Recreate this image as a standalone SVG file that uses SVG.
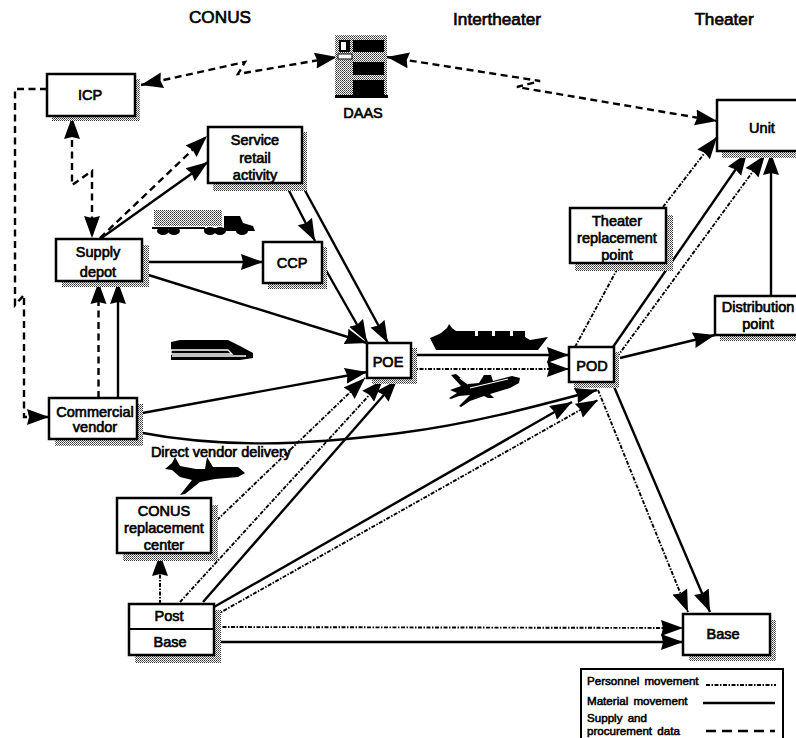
<svg xmlns="http://www.w3.org/2000/svg" width="796" height="738" viewBox="0 0 796 738">
<style>
text{font-family:"Liberation Sans",Arial,sans-serif;font-size:14.5px;fill:#000;stroke:#000;stroke-width:.65;text-anchor:middle}
.h{font-size:17.2px}
.l{font-size:11.6px;text-anchor:start;stroke-width:.55;word-spacing:2px}
.box{fill:#fff;stroke:#000;stroke-width:2.5}
.sh{fill:url(#ht)}
.c{fill:none;stroke:#000}
.mat{stroke-width:2.4}
.per{stroke-width:1.9;stroke-dasharray:4 1.5 1.5 1.5}
.dat{stroke-width:2.4;stroke-dasharray:7 4.5}
.a{marker-end:url(#ah)}
.b{marker-start:url(#ah)}
.ic{fill:#000;stroke:none}
</style>
<defs>
<pattern id="ht" width="2" height="2" patternUnits="userSpaceOnUse"><rect width="2" height="2" fill="#fff"/><rect width="1" height="1" fill="#333"/><rect x="1" y="1" width="1" height="1" fill="#666"/></pattern>
<marker id="ah" markerUnits="userSpaceOnUse" markerWidth="24" markerHeight="18" refX="22" refY="9" orient="auto-start-reverse"><path d="M0,1L22,9L0,17L2,9z" fill="#000"/></marker>
</defs>
<g id="connectors">
<polyline class="c dat a b" points="141,85 245,62 238,74 337,57"/>
<polyline class="c dat a b" points="387,57 540,81 517,87 717,121"/>
<polyline class="c dat a b" points="72,117 72,185 92,171 92,238"/>
<polyline class="c dat a" points="47,89 15,89 15,305 24,295 24,417 49,417"/>
<line class="c dat a" x1="100" y1="238" x2="207" y2="136"/>
<line class="c dat a" x1="98.500" y1="398" x2="98.500" y2="282"/>
<line class="c mat a" x1="100" y1="239" x2="208" y2="162"/>
<line class="c mat a" x1="285" y1="183" x2="315" y2="241"/>
<line class="c mat a" x1="302" y1="185" x2="388" y2="343"/>
<line class="c mat a" x1="323" y1="265" x2="367" y2="342"/>
<line class="c mat a" x1="142" y1="262" x2="263" y2="262"/>
<line class="c mat a" x1="142" y1="273" x2="367" y2="343"/>
<line class="c mat a" x1="118" y1="398" x2="118" y2="282"/>
<line class="c mat a" x1="137" y1="414" x2="367" y2="372"/>
<path class="c mat a" d="M137,432C220,448 300,446 400,433C470,424 530,408 597,390"/>
<line class="c mat a" x1="203" y1="602" x2="397" y2="380"/>
<line class="c mat a" x1="214" y1="607" x2="572" y2="402"/>
<line class="c mat a" x1="613" y1="347" x2="747" y2="153"/>
<line class="c mat a" x1="620" y1="358" x2="715" y2="335"/>
<line class="c mat a" x1="771" y1="296" x2="771" y2="153"/>
<line class="c mat a" x1="612" y1="382" x2="710" y2="612"/>
<line class="c mat a" x1="411" y1="355" x2="569" y2="355"/>
<line class="c mat a" x1="214" y1="642" x2="683" y2="642"/>
<line class="c per a" x1="663" y1="207" x2="717" y2="137"/>
<line class="c per" x1="575" y1="347" x2="620" y2="264"/>
<line class="c per a" x1="617" y1="357" x2="765" y2="155"/>
<line class="c per a" x1="411" y1="369" x2="569" y2="369"/>
<line class="c per a" x1="160" y1="604" x2="160" y2="554"/>
<line class="c per a" x1="217" y1="520" x2="365" y2="378"/>
<line class="c per a" x1="180" y1="602" x2="383" y2="380"/>
<line class="c per a" x1="216" y1="615" x2="598" y2="400"/>
<line class="c per a" x1="598" y1="390" x2="688" y2="612"/>
<line class="c per a" x1="214" y1="627" x2="683" y2="628"/>
</g>
<g id="icp"><rect class="sh" x="52" y="79" width="88" height="42"/><rect class="box" x="47" y="74" width="88" height="42"/><text x="90" y="100">ICP</text></g>
<g id="service-retail"><rect class="sh" x="213" y="132" width="94" height="59"/><rect class="box" x="208" y="127" width="94" height="56"/><text x="255" y="145">Service</text><text x="255" y="163">retail</text><text x="255" y="180">activity</text></g>
<g id="supply-depot"><rect class="sh" x="62" y="245" width="87" height="42"/><rect class="box" x="56" y="239" width="86" height="42"/><text x="98" y="257">Supply</text><text x="98" y="277">depot</text></g>
<g id="ccp"><rect class="sh" x="268" y="247" width="59" height="42"/><rect class="box" x="263" y="242" width="59" height="41"/><text x="292" y="268">CCP</text></g>
<g id="poe"><rect class="sh" x="372" y="348" width="45" height="36"/><rect class="box" x="367" y="343" width="44" height="35"/><text x="388" y="367">POE</text></g>
<g id="pod"><rect class="sh" x="574" y="352" width="45" height="36"/><rect class="box" x="569" y="347" width="45" height="35"/><text x="592" y="371">POD</text></g>
<g id="unit"><rect class="sh" x="722" y="105" width="80" height="53"/><rect class="box" x="717" y="100" width="85" height="51"/><text x="762" y="133">Unit</text></g>
<g id="theater-replacement"><rect class="sh" x="575" y="215" width="98" height="56"/><rect class="box" x="570" y="208" width="96" height="55"/><text x="617" y="226">Theater</text><text x="617" y="243">replacement</text><text x="617" y="260">point</text></g>
<g id="distribution"><rect class="sh" x="720" y="301" width="80" height="40"/><rect class="box" x="715" y="296" width="85" height="39"/><text x="758" y="312">Distribution</text><text x="758" y="329">point</text></g>
<g id="commercial-vendor"><rect class="sh" x="55" y="404" width="88" height="42"/><rect class="box" x="49" y="398" width="88" height="41"/><text x="95" y="417">Commercial</text><text x="95" y="432">vendor</text></g>
<g id="conus-replacement"><rect class="sh" x="123" y="505" width="95" height="56"/><rect class="box" x="117" y="498" width="94" height="55"/><text x="164" y="516">CONUS</text><text x="164" y="533">replacement</text><text x="164" y="550">center</text></g>
<g id="post-base"><rect class="sh" x="135" y="610" width="86" height="53"/><rect class="box" x="129" y="604" width="85" height="51"/><line x1="129" y1="629" x2="214" y2="629" stroke="#000" stroke-width="2"/><text x="169" y="621">Post</text><text x="170" y="647">Base</text></g>
<g id="base"><rect class="sh" x="689" y="620" width="87" height="41"/><rect class="box" x="683" y="614" width="87" height="41"/><text x="723" y="639">Base</text></g>
<g id="daas">
<rect class="sh" x="335" y="35" width="52" height="60"/>
<rect class="ic" x="353" y="40" width="31" height="12"/><rect class="ic" x="353" y="62" width="31" height="13"/><rect class="ic" x="353" y="80" width="31" height="15"/>
<rect class="ic" x="339" y="40" width="11" height="12"/><rect x="341" y="42" width="5" height="8" fill="#fff"/>
<rect x="338" y="54" width="14" height="5" fill="#fff" stroke="#000"/>
<rect class="ic" x="335" y="95" width="53" height="3"/>
<text x="363" y="118">DAAS</text>
</g>
<g id="icons">
<path class="sh" d="M154,210H222V226H154z"/>
<path class="ic" d="M224,216H240L243,223L253,226L255,231H204V228H224zM152,227H205V229H152z"/>
<ellipse class="ic" cx="163" cy="231" rx="6" ry="4"/><ellipse class="ic" cx="174" cy="231" rx="6" ry="4"/><ellipse class="ic" cx="210" cy="231" rx="6" ry="4"/><ellipse class="ic" cx="220" cy="231" rx="6" ry="4"/><ellipse class="ic" cx="242" cy="231" rx="6" ry="4"/>
<path class="ic" d="M171,342L180,340H228L240,346L253,353V358L240,360H171z"/>
<path d="M171,350H228L232,354H171zM172,356H246" fill="none" stroke="#fff" stroke-width="1.300"/>
<path class="ic" d="M430,338L437,335L441,333L447,328L449,324L452,328L456,331H462V331H475V336H478V331H492V336H495V331H510V336H513V331H525V337L530,340L548,337L538,350H436z"/>
<path class="ic" d="M450,390L461,386L451,375L456,374L468,384L479,383L484,375L491,375L493,381L512,376L520,378L519,383L510,388L490,394L494,398H488L484,396L470,401L461,407L459,406L470,395L459,396L451,399L449,398L457,393z"/>
<path d="M460,378L468,384M470,388L508,379" fill="none" stroke="#fff" stroke-width="1.200"/>
<path class="ic" d="M165,469L172,463L175,457L180,466L196,469L205,469L207,457L213,467H238L245,473L238,477L215,479L200,482L185,494L180,495L192,480L180,477L172,470z"/>
</g>
<g id="headers">
<text class="h" x="220" y="23">CONUS</text>
<text class="h" x="497" y="25">Intertheater</text>
<text class="h" x="724" y="25">Theater</text>
<text x="221" y="457">Direct vendor delivery</text>
</g>
<g id="legend">
<path d="M581,738V669H783V738" fill="#fff" stroke="#000" stroke-width="2"/>
<text class="l" x="587" y="685">Personnel movement</text>
<text class="l" x="587" y="705">Material movement</text>
<text class="l" x="587" y="722">Supply and</text>
<text class="l" x="587" y="735">procurement data</text>
<line class="c per" x1="706" y1="685" x2="776" y2="685"/>
<line class="c mat" x1="703" y1="703" x2="775" y2="703"/>
<line class="c dat" x1="706" y1="731" x2="775" y2="731" style="stroke-dasharray:10 6"/>
</g>
</svg>
